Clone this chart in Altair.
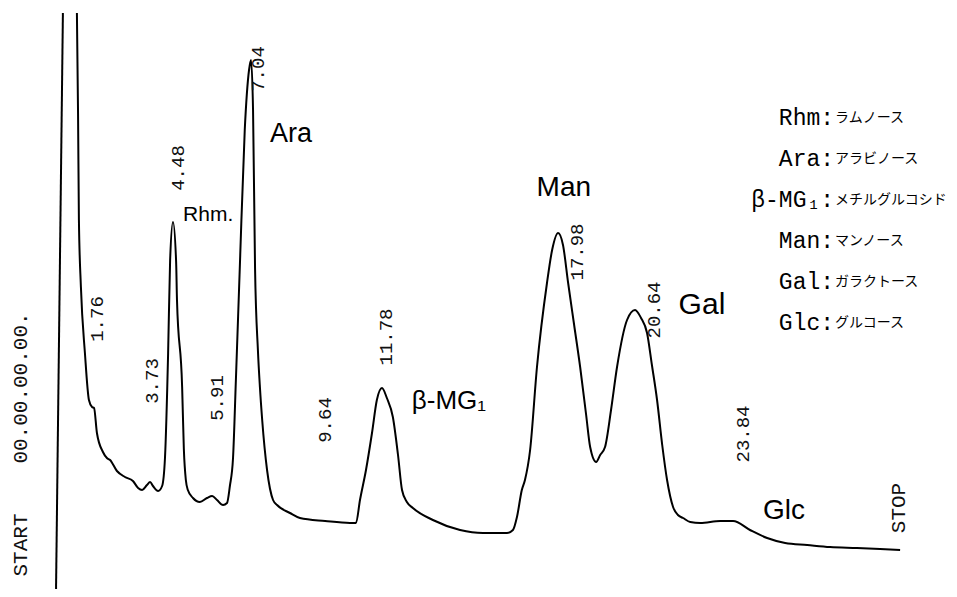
import altair as alt
import pandas as pd

# ---- data (time in min, response in arbitrary units) ----
trace_t = [1.12, 1.16, 1.19, 1.26, 1.40, 1.54, 1.65, 1.72, 1.82, 2.03, 2.17, 2.28, 2.52, 2.80,
           3.08, 3.26, 3.40, 3.57, 3.68, 3.78, 3.96, 4.10, 4.20, 4.31, 4.38, 4.48, 4.59, 4.62,
           4.80, 4.86, 4.93, 5.00, 5.18, 5.42, 5.67, 5.85, 6.02, 6.23, 6.37, 6.47, 6.58, 6.68,
           6.82, 6.99, 7.14, 7.21, 7.28, 7.35, 7.45, 7.52, 7.60, 7.77, 7.98, 8.12, 8.57, 8.92,
           9.80, 10.67, 10.88, 11.02, 11.23, 11.44, 11.61, 11.79, 11.96, 12.17, 12.35, 12.49,
           12.66, 12.87, 13.57, 14.52, 15.32, 16.16, 16.37, 16.51, 16.68, 16.79, 16.97, 17.21,
           17.56, 17.74, 17.95, 18.12, 18.30, 18.51, 18.72, 18.93, 19.07, 19.28, 19.42, 19.59,
           19.80, 20.01, 20.36, 20.64, 20.85, 21.06, 21.23, 21.41, 21.59, 21.76, 21.97, 22.14,
           22.32, 22.57, 22.92, 23.62, 24.07, 24.66, 25.26, 25.89, 26.66, 27.46, 28.40, 29.21,
           29.91]
trace_s = [576, 475, 369, 302, 236, 189, 182, 181, 156, 137, 131, 129, 118, 112,
           108, 101, 99, 104, 107, 103, 98, 103, 131, 236, 329, 367, 327, 289,
           202, 140, 109, 99, 91, 87, 91, 93, 89, 84, 86, 103, 131, 209,
           324, 459, 519, 529, 479, 321, 239, 202, 169, 119, 89, 84, 76, 71,
           68, 66, 66, 89, 119, 156, 189, 201, 191, 172, 134, 99,
           87, 81, 69, 59, 56, 56, 59, 72, 99, 109, 139, 222,
           306, 339, 356, 344, 306, 264, 222, 174, 142, 127, 134, 142,
           179, 222, 269, 279, 271, 256, 224, 189, 144, 109, 82, 74,
           71, 67, 66, 68, 68, 59, 51, 46, 44, 42, 41, 40,
           39]

# start (injection) pen line
start_t = [0.39]
start_t2 = [0.63]
start_s = [0]
start_s2 = [576]

# retention times printed by the integrator
rt_text = ["1.76", "3.73", "4.48", "5.91", "7.04", "9.64", "11.78", "17.98", "20.64", "23.84"]
rt_label_t = [1.82, 3.75, 4.66, 6.02, 7.45, 9.80, 11.93, 18.61, 21.30, 24.42]
rt_label_s = [270, 208, 421, 191, 520, 169, 252, 337, 279, 155]

# hand-written peak names
peak_names = ["Rhm.", "Ara", "β-MG₁", "Man", "Gal", "Glc"]
peak_name_t = [5.71, 8.61, 14.13, 18.15, 22.98, 25.85]
peak_name_s = [374, 455, 188, 401, 284, 78]
peak_name_size = [21, 27, 26, 28, 30, 28]

# printer marks
mark_text = ["START", "00.00.00.00.", "STOP"]
mark_t = [-0.84, -0.84, 29.87]
mark_s = [44, 201, 81]

# key
legend_abbr = ["Rhm:", "Ara:", "β-MG₁:", "Man:", "Gal:", "Glc:"]
legend_kana = ["ラムノース", "アラビノース", "メチルグルコシド", "マンノース", "ガラクトース", "グルコース"]

# ---- chart ----
X_DOMAIN = [-1.29, 31.62]
Y_DOMAIN = [0, 581]
xs = alt.Scale(domain=X_DOMAIN, nice=False, zero=False)
ys = alt.Scale(domain=Y_DOMAIN, nice=False, zero=False)

trace_df = pd.DataFrame({"t": trace_t, "s": trace_s, "k": list(range(len(trace_t)))})
start_df = pd.DataFrame({"t": start_t, "t2": start_t2, "s": start_s, "s2": start_s2})
rt_df = pd.DataFrame({"label": rt_text, "t": rt_label_t, "s": rt_label_s})
name_df = pd.DataFrame({"label": peak_names, "t": peak_name_t, "s": peak_name_s,
                        "size": peak_name_size})
mark_df = pd.DataFrame({"label": mark_text, "t": mark_t, "s": mark_s})
leg_df = pd.DataFrame({"abbr": legend_abbr, "kana": legend_kana, "row": list(range(len(legend_abbr)))})

line = alt.Chart(trace_df).mark_line(color="black", strokeWidth=2, interpolate="monotone").encode(
    x=alt.X("t:Q", scale=xs, axis=None),
    y=alt.Y("s:Q", scale=ys, axis=None),
    order="k:Q",
)

start = alt.Chart(start_df).mark_rule(color="black", strokeWidth=2).encode(
    x=alt.X("t:Q", scale=xs, axis=None),
    x2="t2:Q",
    y=alt.Y("s:Q", scale=ys, axis=None),
    y2="s2:Q",
)

rt_labels = alt.Chart(rt_df).mark_text(
    angle=270, align="center", baseline="middle", font="Liberation Mono",
    fontSize=19, color="#111111",
).encode(
    x=alt.X("t:Q", scale=xs, axis=None),
    y=alt.Y("s:Q", scale=ys, axis=None),
    text="label:N",
)

names = alt.Chart(name_df).mark_text(
    align="center", baseline="middle", font="Liberation Sans", color="black",
).encode(
    x=alt.X("t:Q", scale=xs, axis=None),
    y=alt.Y("s:Q", scale=ys, axis=None),
    size=alt.Size("size:Q", scale=None, legend=None),
    text="label:N",
)

marks = alt.Chart(mark_df).mark_text(
    angle=270, align="center", baseline="middle", font="Liberation Mono",
    fontSize=21, color="#111111",
).encode(
    x=alt.X("t:Q", scale=xs, axis=None),
    y=alt.Y("s:Q", scale=ys, axis=None),
    text="label:N",
)

leg_abbr = alt.Chart(leg_df).transform_calculate(
    t="27.6", s="471 - 41 * datum.row"
).mark_text(
    align="right", baseline="middle", font="Liberation Mono, DejaVu Sans Mono",
    fontSize=23, color="black",
).encode(
    x=alt.X("t:Q", scale=xs, axis=None),
    y=alt.Y("s:Q", scale=ys, axis=None),
    text="abbr:N",
)

leg_kana = alt.Chart(leg_df).transform_calculate(
    t="27.6", s="471 - 41 * datum.row"
).mark_text(
    align="left", baseline="middle", dx=1, font="Noto Sans CJK JP",
    fontSize=14, color="black",
).encode(
    x=alt.X("t:Q", scale=xs, axis=None),
    y=alt.Y("s:Q", scale=ys, axis=None),
    text="kana:N",
)

chart = alt.layer(start, line, rt_labels, names, marks, leg_abbr, leg_kana).properties(
    width=941, height=581,
    autosize=alt.AutoSizeParams(type="none"),
    padding=0,
).configure_view(strokeWidth=0)

chart.save("out.html", embed_options={"renderer": "svg", "actions": False})
